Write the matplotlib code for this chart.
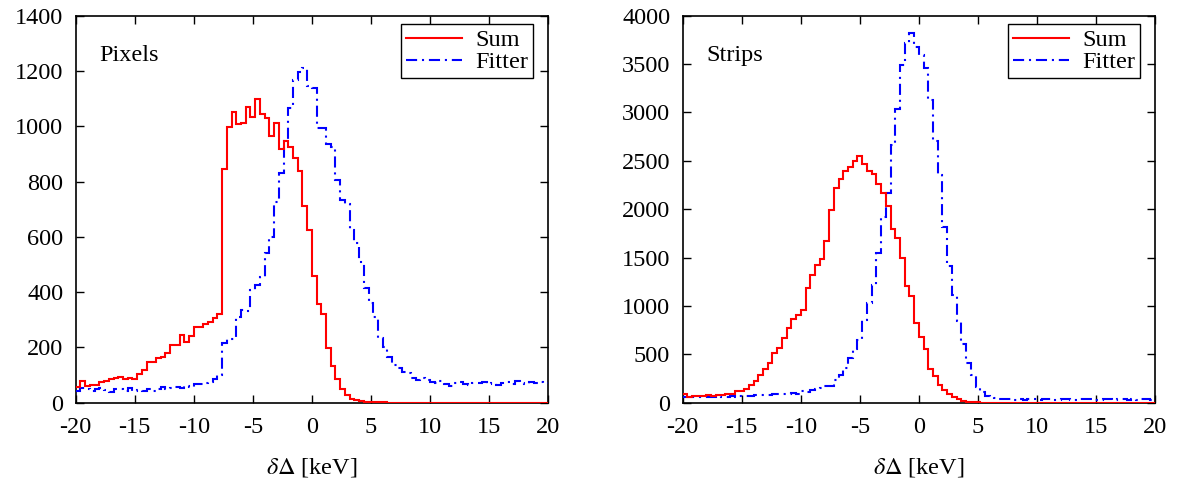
import numpy as np
import matplotlib
matplotlib.use("Agg")
import matplotlib.pyplot as plt
from matplotlib.lines import Line2D

plt.rcParams["font.family"] = ["Liberation Serif", "DejaVu Serif"]
plt.rcParams["mathtext.fontset"] = "stix"
plt.rcParams["axes.unicode_minus"] = False
plt.rcParams["lines.scale_dashes"] = False

# Histogram range: 100 bins of 0.4 keV between -20 and 20 keV
x_lo, x_hi, n_bins = -20.0, 20.0, 100

# Pixel detector: counts per bin
pix_sum = [
    58, 80, 60, 64, 64, 74, 78, 84, 89, 94,
    84, 89, 85, 103, 118, 148, 148, 160, 166, 178,
    207, 207, 245, 218, 241, 275, 275, 285, 293, 305,
    321, 845, 996, 1053, 1008, 1011, 1068, 1035, 1098, 1043,
    1031, 963, 1011, 917, 945, 924, 887, 838, 712, 625,
    458, 356, 320, 197, 134, 84, 51, 28, 14, 8,
    5, 3, 2, 1, 1, 1, 0, 0, 0, 0,
    0, 0, 0, 0, 0, 0, 0, 0, 0, 0,
    0, 0, 0, 0, 0, 0, 0, 0, 0, 0,
    0, 0, 0, 0, 0, 0, 0, 0, 0, 0,
]
pix_fit = [
    42, 52, 50, 44, 48, 54, 46, 40, 50, 48,
    44, 52, 42, 46, 44, 50, 42, 48, 56, 50,
    54, 58, 52, 60, 58, 66, 68, 70, 76, 86,
    100, 215, 229, 232, 311, 335, 330, 408, 426, 456,
    540, 600, 727, 830, 945, 1065, 1168, 1198, 1210, 1145,
    1140, 995, 995, 936, 926, 806, 733, 720, 625, 577,
    510, 414, 360, 311, 233, 203, 166, 136, 124, 112,
    106, 88, 82, 88, 82, 74, 70, 78, 66, 62,
    70, 74, 68, 64, 72, 70, 76, 66, 72, 64,
    70, 74, 68, 78, 70, 66, 74, 72, 76, 70,
]

# Strip detector: counts per bin
str_sum = [
    90, 62, 65, 70, 68, 75, 72, 78, 82, 88,
    95, 120, 120, 138, 183, 224, 286, 345, 407, 510,
    562, 665, 770, 870, 910, 958, 1182, 1320, 1423, 1481,
    1674, 1991, 2222, 2308, 2394, 2439, 2501, 2553, 2467, 2398,
    2363, 2260, 2171, 2033, 1792, 1705, 1492, 1206, 1106, 820,
    682, 558, 345, 279, 183, 131, 90, 55, 34, 20,
    12, 7, 4, 2, 1, 1, 0, 0, 0, 0,
    0, 0, 0, 0, 0, 0, 0, 0, 0, 0,
    0, 0, 0, 0, 0, 0, 0, 0, 0, 0,
    0, 0, 0, 0, 0, 0, 0, 0, 0, 0,
]
str_fit = [
    55, 58, 62, 60, 55, 64, 60, 66, 58, 62,
    65, 60, 68, 70, 72, 78, 76, 82, 80, 86,
    90, 88, 92, 96, 95, 124, 110, 135, 140, 150,
    170, 175, 234, 290, 355, 458, 551, 648, 854, 1034,
    1216, 1543, 1922, 2164, 2663, 3032, 3490, 3714, 3824, 3680,
    3593, 3456, 3130, 2700, 2350, 1820, 1410, 1110, 840, 610,
    410, 285, 165, 115, 70, 55, 45, 38, 35, 40,
    32, 36, 30, 38, 34, 30, 36, 40, 33, 30,
    35, 38, 32, 30, 36, 34, 38, 32, 30, 36,
    34, 30, 38, 35, 32, 36, 30, 34, 38, 32,
]

series_labels = ["Sum", "Fitter"]
panel_names = ["Pixels", "Strips"]
y_max = [1400, 4000]
y_step = [200, 500]
x_ticks = [-20, -15, -10, -5, 0, 5, 10, 15, 20]
x_label = r"$\delta\Delta$ [keV]"

edges = np.linspace(x_lo, x_hi, n_bins + 1)

sum_color = "#ff0000"
fit_color = "#0000ff"
fit_style = (0, (8, 3.5, 1.5, 3.5))

fig = plt.figure(figsize=(11.89, 4.86), dpi=100)
ax_l = fig.add_axes([0.0637, 0.1714, 0.3972, 0.7963])
ax_r = fig.add_axes([0.5742, 0.1714, 0.3972, 0.7963])

fs = 17.5
for ax, s_vals, f_vals, name, ym, ys in [
    (ax_l, pix_sum, pix_fit, panel_names[0], y_max[0], y_step[0]),
    (ax_r, str_sum, str_fit, panel_names[1], y_max[1], y_step[1]),
]:
    ax.stairs(f_vals, edges, baseline=None, color=fit_color, linewidth=1.5,
              linestyle=fit_style, zorder=3)
    ax.stairs(s_vals, edges, baseline=None, color=sum_color, linewidth=1.5,
              zorder=4)
    ax.set_xlim(x_lo, x_hi)
    ax.set_ylim(0, ym)
    ax.set_xticks(x_ticks)
    ax.set_yticks(np.arange(0, ym + 1, ys))
    ax.tick_params(direction="in", top=True, right=True, length=6, width=1,
                   labelsize=fs)
    ax.tick_params(axis="x", pad=10)
    ax.tick_params(axis="y", pad=9)
    for sp in ax.spines.values():
        sp.set_linewidth(1.2)
    ax.set_xlabel(x_label, fontsize=fs, labelpad=13)
    ax.text(0.05, 0.897, name, transform=ax.transAxes, fontsize=fs,
            ha="left", va="center")
    handles = [
        Line2D([], [], color=sum_color, linewidth=1.5),
        Line2D([], [], color=fit_color, linewidth=1.5, linestyle=fit_style),
    ]
    leg = ax.legend(handles, series_labels, loc="upper right",
                    bbox_to_anchor=(0.968, 0.978), borderaxespad=0.0,
                    fontsize=fs, frameon=True, fancybox=False,
                    edgecolor="black", framealpha=1, handlelength=2.3,
                    handletextpad=0.55, borderpad=0.2, labelspacing=0.0)
    leg.get_frame().set_linewidth(1.0)

fig.savefig("out.png", dpi=100)
